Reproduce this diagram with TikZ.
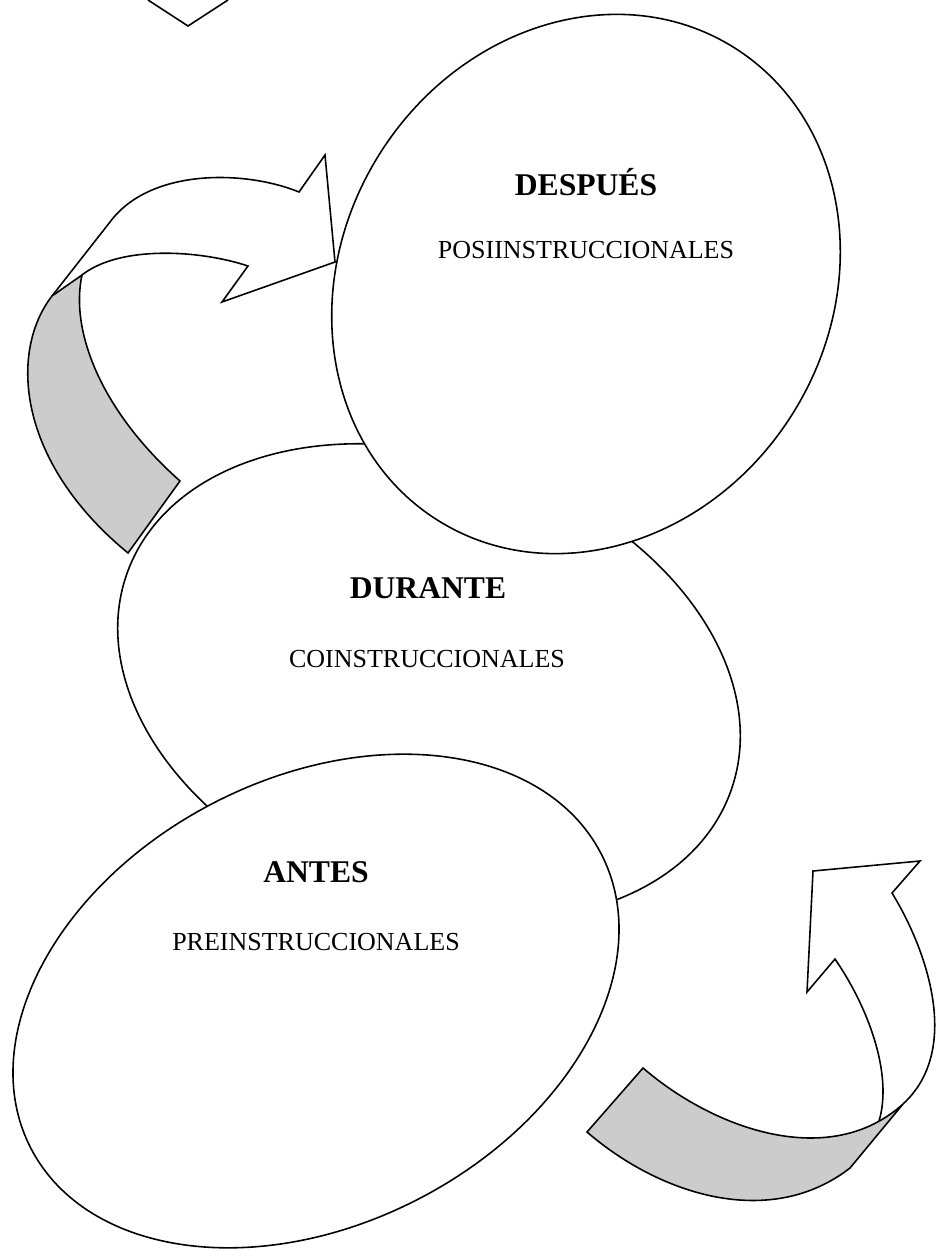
\documentclass[tikz,border=0pt]{standalone}
\usepackage{fontspec}
\setmainfont{Liberation Serif}
\definecolor{bandgray}{RGB}{204, 204, 204}
\usetikzlibrary{shapes.geometric}

\begin{document}
\begin{tikzpicture}[x=0.02cm, y=-0.02cm, line width=0.9pt,
  fase/.style={ellipse, draw, fill=white, inner sep=0pt, outer sep=0pt},
  titulo/.style={anchor=base, font=\fontsize{18}{20}\selectfont\bfseries},
  subtitulo/.style={anchor=base, font=\fontsize{14.8}{17}\selectfont},
  cinta/.style={draw, fill=white},
  sombra/.style={draw, fill=bandgray}]
  \useasboundingbox (0,0) rectangle (943,1250);

  % Phases
  \node[fase, minimum width=12.84cm, minimum height=9cm, rotate=-20] (durante) at (429,682) {};
  \node[fase, minimum width=11.16cm, minimum height=9.76cm, rotate=58] (despues) at (586,284) {};
  \node[fase, minimum width=12.84cm, minimum height=8.92cm, rotate=27.3] (antes) at (316,1001) {};

  % Arrow cut by the top edge
  \draw (148,0) -- (188,26) -- (228,0);

  % Left arrow
  \draw[cinta] (52,296) -- (110,222) .. controls (150,168) and (245,170) .. (299,192)
    -- (325,155) -- (335,262) -- (222,302) -- (248,266) .. controls (200,250) and (120,245) .. (82,275);
  \draw[sombra] (82,275) .. controls (70,330) and (100,410) .. (180,481) -- (128,553)
    .. controls (15,460) and (10,350) .. (52,296) -- cycle;

  % Right arrow
  \draw[cinta] (903,1104) .. controls (962,1050) and (927,950) .. (892,893)
    -- (920,861) -- (813,871) -- (807,992) -- (835,959) .. controls (870,1010) and (895,1080) .. (877,1127);
  \draw[sombra] (643,1068) .. controls (715,1130) and (830,1170) .. (903,1104) -- (850,1168)
    .. controls (770,1230) and (660,1195) .. (587,1132) -- cycle;

  % Labels
  \node[titulo] (despuesT) at (586,195) {DESPUÉS};
  \node[subtitulo] (despuesS) at (586,258) {POSIINSTRUCCIONALES};
  \node[titulo] (duranteT) at (428,598) {DURANTE};
  \node[subtitulo] (duranteS) at (427,667) {COINSTRUCCIONALES};
  \node[titulo] (antesT) at (316,882) {ANTES};
  \node[subtitulo] (antesS) at (316,950) {PREINSTRUCCIONALES};
\end{tikzpicture}
\end{document}
